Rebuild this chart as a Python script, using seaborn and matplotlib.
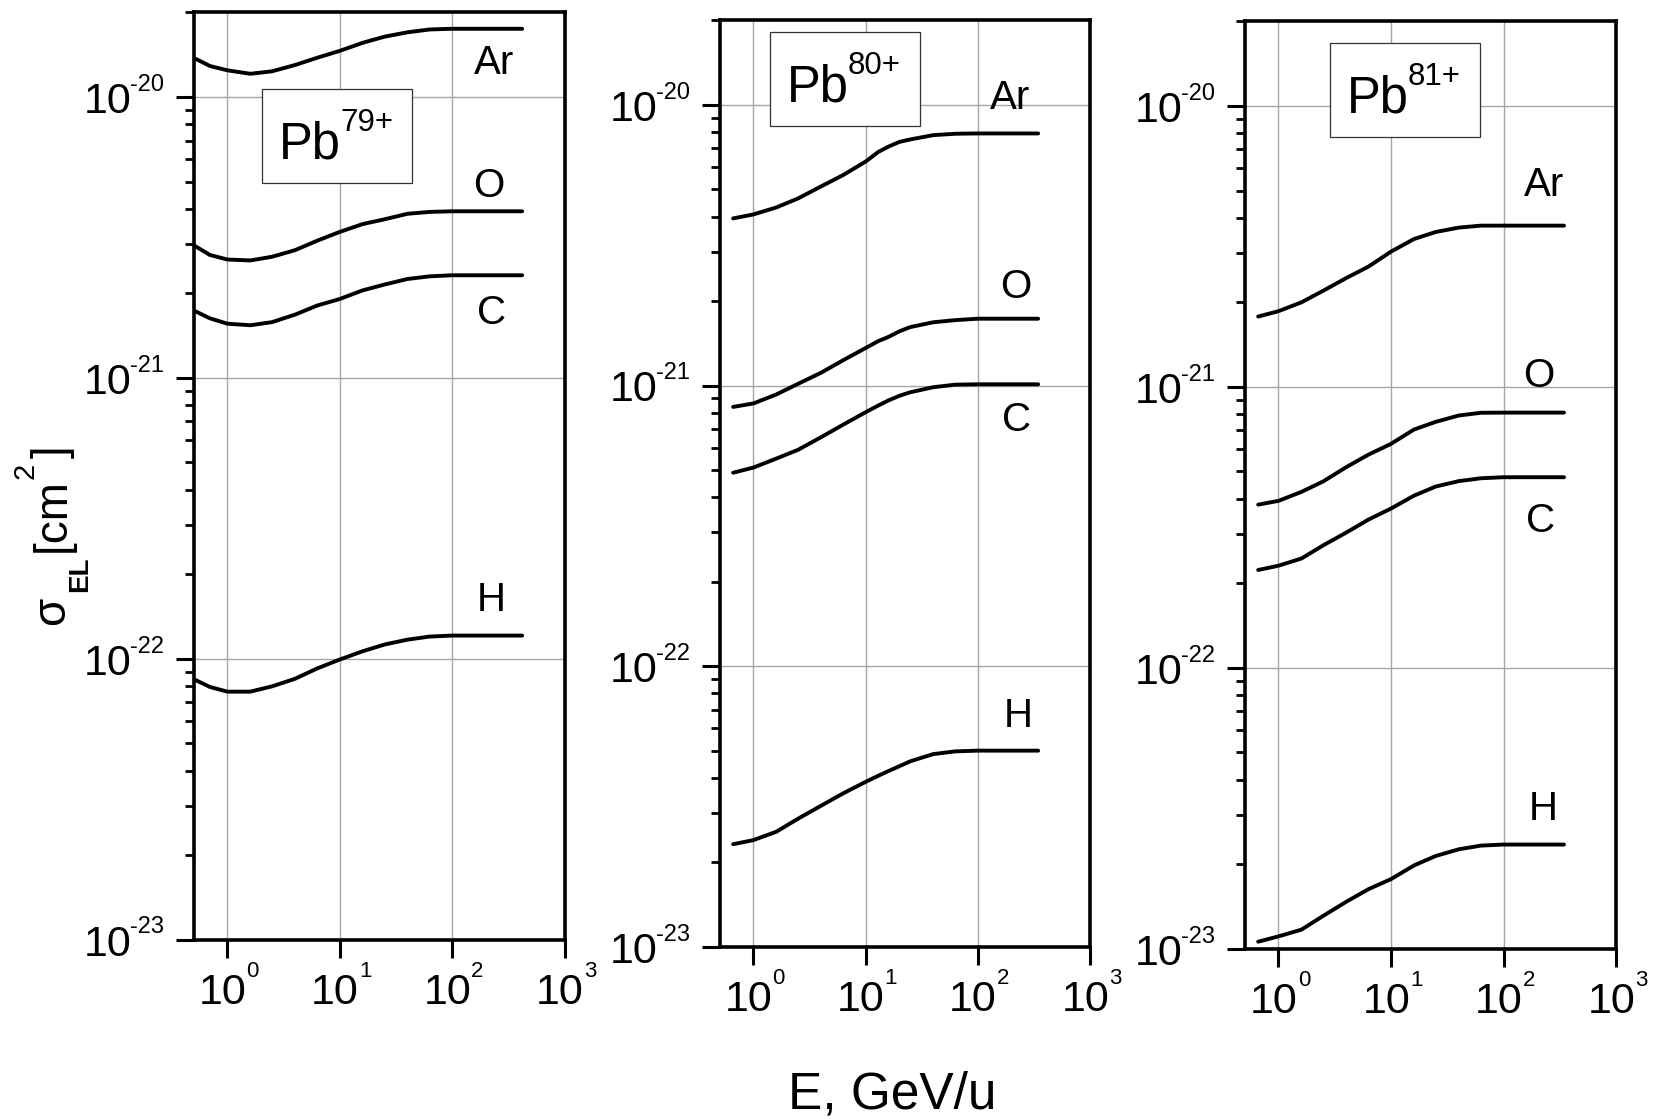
import matplotlib
matplotlib.use("Agg")
import matplotlib.pyplot as plt
import numpy as np
import pandas as pd
import seaborn as sns
from matplotlib.patches import Rectangle
from matplotlib.ticker import FixedLocator, LogLocator, NullLocator, NullFormatter
from matplotlib.textpath import TextToPath
from matplotlib.font_manager import FontProperties

# ---------------------------------------------------------------- data
TARGETS = ["Ar", "O", "C", "H"]
CHARGES = ["79+", "80+", "81+"]

# beam energies, GeV/u
E_79 = [0.5, 0.7, 1.0, 1.6, 2.5, 4.0, 6.3, 10, 16, 25, 40, 63, 100, 200, 420]
E_80 = [0.66, 1.0, 1.6, 2.5, 4.0, 6.3, 10, 13, 16, 20, 25, 40, 63, 100, 200, 345]
E_81 = [0.66, 1.0, 1.6, 2.5, 4.0, 6.3, 10, 16, 25, 40, 63, 100, 200, 345]

# electron-loss cross sections, cm^2 -- Pb79+
SIG_79_AR = [1.38e-20, 1.29e-20, 1.245e-20, 1.21e-20, 1.235e-20, 1.30e-20, 1.38e-20, 1.46e-20,
             1.56e-20, 1.64e-20, 1.70e-20, 1.74e-20, 1.75e-20, 1.75e-20, 1.75e-20]
SIG_79_O = [2.97e-21, 2.74e-21, 2.64e-21, 2.62e-21, 2.70e-21, 2.85e-21, 3.08e-21, 3.31e-21,
            3.53e-21, 3.67e-21, 3.84e-21, 3.90e-21, 3.92e-21, 3.92e-21, 3.92e-21]
SIG_79_C = [1.74e-21, 1.63e-21, 1.56e-21, 1.54e-21, 1.58e-21, 1.68e-21, 1.81e-21, 1.91e-21,
            2.05e-21, 2.15e-21, 2.25e-21, 2.30e-21, 2.32e-21, 2.32e-21, 2.32e-21]
SIG_79_H = [8.47e-23, 7.94e-23, 7.64e-23, 7.64e-23, 7.98e-23, 8.49e-23, 9.24e-23, 9.94e-23,
            1.064e-22, 1.124e-22, 1.17e-22, 1.20e-22, 1.21e-22, 1.21e-22, 1.21e-22]

# Pb80+
SIG_80_AR = [3.94e-21, 4.07e-21, 4.31e-21, 4.64e-21, 5.12e-21, 5.62e-21, 6.28e-21, 6.80e-21,
             7.10e-21, 7.38e-21, 7.53e-21, 7.80e-21, 7.89e-21, 7.91e-21, 7.91e-21, 7.91e-21]
SIG_80_O = [8.39e-22, 8.63e-22, 9.29e-22, 1.014e-21, 1.11e-21, 1.23e-21, 1.36e-21, 1.44e-21,
            1.49e-21, 1.56e-21, 1.615e-21, 1.68e-21, 1.71e-21, 1.73e-21, 1.73e-21, 1.73e-21]
SIG_80_C = [4.89e-22, 5.10e-22, 5.49e-22, 5.90e-22, 6.54e-22, 7.25e-22, 8.03e-22, 8.49e-22,
            8.85e-22, 9.19e-22, 9.46e-22, 9.86e-22, 1.007e-21, 1.01e-21, 1.01e-21, 1.01e-21]
SIG_80_H = [2.32e-23, 2.40e-23, 2.57e-23, 2.86e-23, 3.18e-23, 3.52e-23, 3.87e-23, 4.07e-23,
            4.23e-23, 4.40e-23, 4.58e-23, 4.86e-23, 4.97e-23, 5.0e-23, 5.0e-23, 5.0e-23]

# Pb81+
SIG_81_AR = [1.78e-21, 1.86e-21, 2.00e-21, 2.20e-21, 2.44e-21, 2.68e-21, 3.03e-21, 3.36e-21,
             3.56e-21, 3.69e-21, 3.75e-21, 3.75e-21, 3.75e-21, 3.75e-21]
SIG_81_O = [3.81e-22, 3.93e-22, 4.23e-22, 4.61e-22, 5.18e-22, 5.74e-22, 6.27e-22, 7.05e-22,
            7.51e-22, 7.91e-22, 8.09e-22, 8.1e-22, 8.1e-22, 8.1e-22]
SIG_81_C = [2.23e-22, 2.31e-22, 2.45e-22, 2.73e-22, 3.03e-22, 3.37e-22, 3.69e-22, 4.10e-22,
            4.42e-22, 4.62e-22, 4.73e-22, 4.77e-22, 4.77e-22, 4.77e-22]
SIG_81_H = [1.06e-23, 1.107e-23, 1.17e-23, 1.31e-23, 1.47e-23, 1.63e-23, 1.77e-23, 1.98e-23,
            2.14e-23, 2.26e-23, 2.33e-23, 2.35e-23, 2.35e-23, 2.35e-23]

X_TICK_EXP = [0, 1, 2, 3]
Y_TICK_EXP = [-20, -21, -22, -23]

PANELS = [
    (E_79, [SIG_79_AR, SIG_79_O, SIG_79_C, SIG_79_H]),
    (E_80, [SIG_80_AR, SIG_80_O, SIG_80_C, SIG_80_H]),
    (E_81, [SIG_81_AR, SIG_81_O, SIG_81_C, SIG_81_H]),
]

# ---------------------------------------------------------------- layout / style
AX_RECTS = [
    [0.11706, 0.16023, 0.22444, 0.82860],
    [0.43533, 0.15389, 0.22408, 0.82788],
    [0.75294, 0.15210, 0.22468, 0.82878],
]
# boxed ion labels, axes fraction (x0, y0, w, h)
TITLE_BOXES = [
    (0.1846, 0.8158, 0.4034, 0.1020),
    (0.1360, 0.8863, 0.4050, 0.1017),
    (0.2289, 0.8748, 0.4036, 0.1020),
]
# target-name label anchors (data coords, text baseline)
LABEL_POS = [
    [(235, 1.21e-20), (210, 4.41e-21), (223, 1.56e-21), (222, 1.48e-22)],
    [(193, 9.7e-21), (220, 2.05e-21), (222, 6.9e-22), (228, 6.05e-23)],
    [(231, 4.78e-21), (205, 9.97e-22), (214, 3.05e-22), (225, 2.87e-23)],
]

FONT = ["Liberation Sans", "DejaVu Sans"]
sns.set_style("white")
plt.rcParams["font.family"] = FONT
plt.rcParams["text.color"] = "black"

_T2P = TextToPath()


def text_width(s, size, weight="normal"):
    """Advance width of a string, in points."""
    fp = FontProperties(family=FONT, size=size, weight=weight)
    w, _, _ = _T2P.get_text_width_height_descent(s, fp, ismath=False)
    return w


def rich_text(host, xy, xycoords, pieces, align="left", offset=(0.0, 0.0), rotation=0):
    """Lay out (text, size, weight, rise, gap) pieces one after another; units are points."""
    widths = [text_width(s, sz, wt) for s, sz, wt, _, _ in pieces]
    total = sum(widths) + sum(p[4] for p in pieces)
    along = {"left": 0.0, "center": -total / 2, "right": -total}[align] + offset[0]
    for (s, sz, wt, rise, gap), w in zip(pieces, widths):
        along += gap
        perp = offset[1] + rise
        dxy = (-perp, along) if rotation == 90 else (along, perp)
        host.annotate(s, xy=xy, xycoords=xycoords, xytext=dxy, textcoords="offset points",
                      fontsize=sz, fontweight=wt, ha="left", va="baseline",
                      rotation=rotation, rotation_mode="anchor", annotation_clip=False)
        along += w


fig = plt.figure(figsize=(16.5301, 11.1901), dpi=100)
fig.patch.set_facecolor("white")

axes = []
for i, (energies, series) in enumerate(PANELS):
    ax = fig.add_axes(AX_RECTS[i])
    axes.append(ax)
    ax.set_xscale("log")
    ax.set_yscale("log")

    frame = pd.concat(
        [pd.DataFrame({"E": energies, "sigma": sig, "target": name})
         for name, sig in zip(TARGETS, series)],
        ignore_index=True,
    )
    sns.lineplot(data=frame, x="E", y="sigma", units="target", estimator=None,
                 sort=False, color="black", lw=2.8, legend=False, ax=ax, zorder=4)

    ax.set_xlim(0.5, 1000)
    ax.set_ylim(1e-23, 2e-20)
    ax.set_xlabel("")
    ax.set_ylabel("")

    ax.xaxis.set_major_locator(FixedLocator([10.0 ** k for k in X_TICK_EXP]))
    ax.xaxis.set_minor_locator(NullLocator())
    ax.yaxis.set_major_locator(LogLocator(base=10, numticks=20))
    ax.yaxis.set_minor_locator(LogLocator(base=10, subs=np.arange(2, 10), numticks=20))
    ax.xaxis.set_major_formatter(NullFormatter())
    ax.yaxis.set_major_formatter(NullFormatter())
    ax.yaxis.set_minor_formatter(NullFormatter())
    ax.tick_params(which="both", direction="out", top=False, right=False,
                   bottom=True, left=True, color="black")
    ax.tick_params(which="major", length=13, width=2.2)
    ax.tick_params(which="minor", length=6.5, width=2.0)

    ax.grid(True, which="major", color="#a6a6a6", lw=1.0)
    ax.set_axisbelow(True)
    for sp in ax.spines.values():
        sp.set_visible(True)
        sp.set_color("black")
        sp.set_linewidth(2.6)

    # tick labels: 10 with a raised exponent
    for k in X_TICK_EXP:
        rich_text(ax, (10.0 ** k, 0), ax.get_xaxis_transform(),
                  [("10", 31, "normal", 0, 0), (str(k), 16, "normal", 19.5, 0)],
                  align="center", offset=(1.0, -46.5))
    for k in Y_TICK_EXP:
        rich_text(ax, (0, 10.0 ** k), ax.get_yaxis_transform(),
                  [("10", 31, "normal", 0, 0), (str(k), 17, "normal", 16, -1.5)],
                  align="right", offset=(-21.3, -11.5))

    # target names at the curve ends
    for name, (lx, ly) in zip(TARGETS, LABEL_POS[i]):
        ax.text(lx, ly, name, fontsize=29, ha="center", va="baseline", zorder=5)

    # boxed ion label
    bx, by, bw, bh = TITLE_BOXES[i]
    ax.add_patch(Rectangle((bx, by), bw, bh, transform=ax.transAxes, facecolor="white",
                           edgecolor="#333333", lw=0.9, zorder=6))
    rich_text(ax, (bx, by + bh), "axes fraction",
              [("Pb", 36.5, "normal", 0, 0), (CHARGES[i], 22.5, "normal", 19.7, -0.5)],
              align="left", offset=(12.1, -50.1))
    for t in ax.texts[-2:]:
        t.set_zorder(7)

# axis titles
axes[0].annotate("E, GeV/u", xy=(892, 10.7), xycoords="figure pixels", fontsize=37,
                 ha="center", va="baseline", annotation_clip=False)
rich_text(axes[0], (64.5, 494), "figure pixels",
          [("σ", 33, "normal", 0, 0), ("EL", 20, "bold", -16.4, 3.6),
           ("[cm", 33, "normal", 0, 3.3), ("2", 21, "normal", 22.5, -0.9),
           ("]", 33, "normal", 0, 3.2)],
          align="left", rotation=90)

fig.savefig("out.png", dpi=100, facecolor="white")
